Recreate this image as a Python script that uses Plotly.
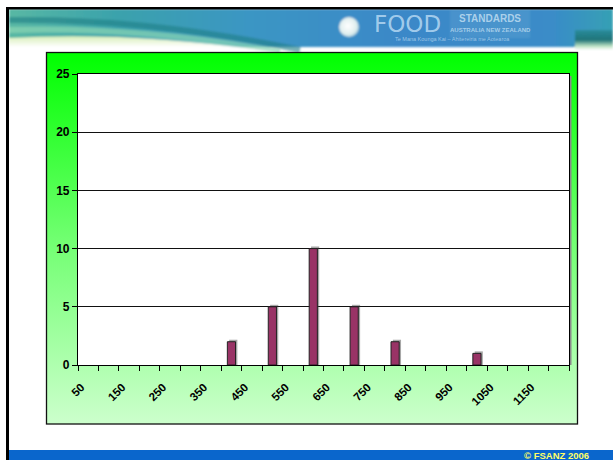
import base64
import plotly.graph_objects as go

# Serving-size bins (category labels) and the number of products in each
categories = ["50", "100", "150", "200", "250", "300", "350", "400", "450", "500",
              "550", "600", "650", "700", "750", "800", "850", "900", "950", "1000",
              "1050", "1100", "1150", "1200"]
counts = [0, 0, 0, 0, 0, 0, 0, 2, 0, 5,
          0, 10, 0, 5, 0, 2, 0, 0, 0, 1,
          0, 0, 0, 0]
tick_labels = categories[::2]

y_ticks = [0, 5, 10, 15, 20, 25]

W, H = 613, 460
FONT = "Liberation Sans, Arial, sans-serif"

x_vals = [int(c) for c in categories]
tick_vals = [int(c) for c in tick_labels]

# Slide background: banner, green chart frame, white plot panel, footer bar
svg = f"""<svg xmlns='http://www.w3.org/2000/svg' width='{W}' height='{H}' viewBox='0 0 {W} {H}'>
<defs>
 <linearGradient id='frame' x1='0' y1='0' x2='0' y2='1'>
  <stop offset='0' stop-color='#00ff00'/>
  <stop offset='0.5' stop-color='#70ff70'/>
  <stop offset='1' stop-color='#ccffcc'/>
 </linearGradient>
 <linearGradient id='band' x1='0' y1='0' x2='1' y2='0'>
  <stop offset='0' stop-color='#58b8a4'/>
  <stop offset='0.18' stop-color='#3aa2ac'/>
  <stop offset='0.4' stop-color='#3b96c4'/>
  <stop offset='0.65' stop-color='#3a88c8'/>
  <stop offset='0.9' stop-color='#3a8cc8'/>
  <stop offset='1' stop-color='#36a0b4'/>
 </linearGradient>
 <linearGradient id='sw' x1='0' y1='0' x2='0' y2='1'>
  <stop offset='0' stop-color='#d8efb8'/>
  <stop offset='0.5' stop-color='#ffffff'/>
  <stop offset='1' stop-color='#ffffff'/>
 </linearGradient>
 <linearGradient id='edge' x1='0' y1='0' x2='0' y2='1'>
  <stop offset='0' stop-color='#2a8c9c'/>
  <stop offset='0.5' stop-color='#1e7478'/>
  <stop offset='0.8' stop-color='#b8e0c0'/>
  <stop offset='1' stop-color='#ffffff'/>
 </linearGradient>
 <radialGradient id='globe' cx='0.45' cy='0.45' r='0.6'>
  <stop offset='0' stop-color='#ffffff'/>
  <stop offset='0.7' stop-color='#dfeeee'/>
  <stop offset='1' stop-color='#9cc8d8'/>
 </radialGradient>
 <filter id='soft'><feGaussianBlur stdDeviation='1.2'/></filter>
</defs>
<rect x='0' y='0' width='{W}' height='{H}' fill='#ffffff'/>
<g filter='url(#soft)'>
 <rect x='9' y='9' width='604' height='38' fill='url(#band)'/>
 <rect x='575' y='30' width='38' height='20' fill='url(#edge)'/>
 <path d='M9,20 Q150,18 300,50' stroke='#1f7f86' stroke-width='6' fill='none' opacity='0.6'/>
 <path d='M9,30 Q140,26 280,52' stroke='#8ad6b4' stroke-width='6' fill='none' opacity='0.7'/>
 <path d='M9,38 Q150,30 310,58 L9,58 Z' fill='url(#sw)'/>
 <rect x='450' y='10' width='80' height='28' fill='#ffffff' opacity='0.08'/>
 <circle cx='349' cy='27' r='10' fill='url(#globe)'/>
</g>
<rect x='6' y='7' width='{W - 6}' height='2.5' fill='#000000'/>
<rect x='6' y='7' width='3' height='{H - 7}' fill='#000000'/>
<rect x='46.5' y='52.5' width='531' height='371.5' fill='url(#frame)' stroke='#111111' stroke-width='1.3'/>
<rect x='78' y='74' width='491' height='291' fill='#ffffff'/>
<rect x='569' y='76' width='2.5' height='289' fill='#8a8a8a'/>
<rect x='9' y='450' width='604' height='10' fill='#0a66cc'/>
</svg>"""
bg_uri = "data:image/svg+xml;base64," + base64.b64encode(svg.encode()).decode()

bar_w = 20          # bar width in axis units (bins are 50 apart)
shadow = [v + 0.17 if v else None for v in counts]
outline = [1 if v else 0 for v in counts]

fig = go.Figure()
fig.add_trace(go.Bar(
    x=x_vals, y=shadow, width=bar_w, offset=-bar_w / 2 + 4.5,
    marker=dict(color="rgba(60,60,60,0.45)", line=dict(width=0)),
    hoverinfo="skip", showlegend=False,
))
fig.add_trace(go.Bar(
    x=x_vals, y=counts, width=bar_w, offset=-bar_w / 2,
    marker=dict(color="#993366", line=dict(color="#222222", width=outline)),
    showlegend=False,
))

def paper_note(text, px, py, size, color, weight="normal", family=FONT, xanchor="center"):
    return dict(text=text, x=px / W, y=1 - py / H, xref="paper", yref="paper",
                showarrow=False, xanchor=xanchor, yanchor="middle",
                font=dict(family=family, size=size, color=color, weight=weight))

fig.update_layout(
    width=W, height=H,
    margin=dict(l=0, r=0, t=0, b=0),
    paper_bgcolor="#ffffff",
    plot_bgcolor="rgba(0,0,0,0)",
    barmode="overlay",
    images=[dict(source=bg_uri, xref="paper", yref="paper", x=0, y=1,
                 sizex=1, sizey=1, xanchor="left", yanchor="top",
                 sizing="stretch", layer="below")],
    xaxis=dict(
        domain=[78 / W, 569 / W],
        range=[25, 1225],
        tickmode="array", tickvals=tick_vals, ticktext=tick_labels,
        tickangle=-45, ticks="", ticklabelstandoff=10, ticklabelshift=-7,
        tickfont=dict(family=FONT, size=11.5, color="#000000", weight="bold"),
        minor=dict(tickmode="linear", tick0=25, dtick=50, ticks="outside",
                   ticklen=5, tickcolor="#000000", tickwidth=1, showgrid=False),
        showgrid=False, zeroline=False, automargin=False,
        showline=True, linecolor="#000000", linewidth=1.2, mirror=True,
    ),
    yaxis=dict(
        domain=[1 - 365 / H, 1 - 74 / H],
        range=[0, 25],
        tickmode="array", tickvals=y_ticks,
        ticks="outside", ticklen=5, tickcolor="#000000",
        tickfont=dict(family=FONT, size=12, color="#000000", weight="bold"),
        showgrid=True, gridcolor="#111111", gridwidth=1,
        zeroline=False, automargin=False,
        showline=True, linecolor="#000000", linewidth=1.2, mirror=True,
    ),
    annotations=[
        paper_note("FOOD", 407, 24, 23, "rgba(175,212,240,0.9)", family="DejaVu Sans, sans-serif"),
        paper_note("STANDARDS", 490, 19, 10, "rgba(190,220,240,0.85)", "bold"),
        paper_note("AUSTRALIA NEW ZEALAND", 490, 30, 6, "rgba(190,220,240,0.8)", "bold"),
        paper_note("Te Mana Kounga Kai \u2013 Ahitereiria me Aotearoa", 452, 39, 5.5,
                   "rgba(190,220,240,0.75)"),
        paper_note("\u00a9 FSANZ 2006", 556, 455, 9.5, "#ffff66", "bold"),
    ],
)

fig.write_html("out.html", post_script="document.body.style.margin='0';")
